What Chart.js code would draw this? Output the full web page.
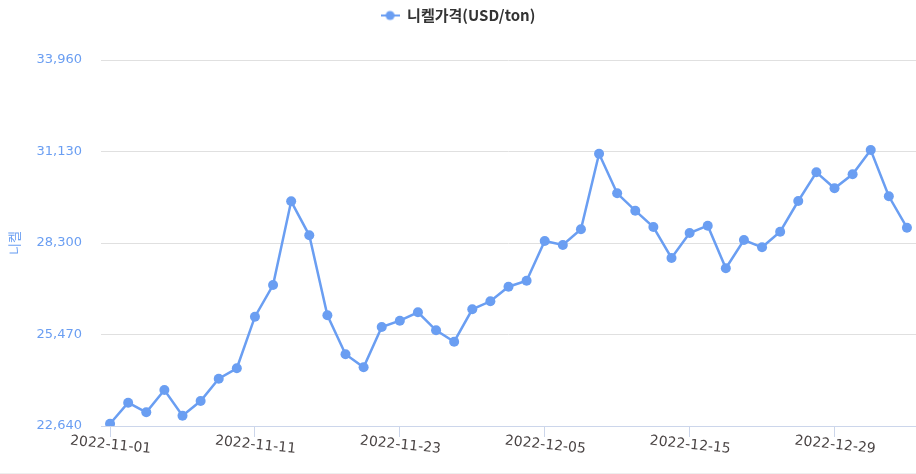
<!DOCTYPE html>
<html>
<head>
<meta charset="utf-8">
<script src="https://cdn.jsdelivr.net/npm/chart.js@4.4.0/dist/chart.umd.min.js"></script>
<style>
html, body { margin: 0; padding: 0; background: #fff; }
#wrap { position: relative; width: 916px; height: 473px; border-bottom: 1px solid #eeeeee; }
</style>
</head>
<body>
<div id="wrap"><canvas id="myChart"></canvas></div>
<script>
// trading days, Nov 2022 - Jan 2023
var dates = [
    '2022-11-01', '2022-11-02', '2022-11-03', '2022-11-04', '2022-11-07', '2022-11-08', '2022-11-09', '2022-11-10',
    '2022-11-11', '2022-11-14', '2022-11-15', '2022-11-16', '2022-11-17', '2022-11-18', '2022-11-21', '2022-11-22',
    '2022-11-23', '2022-11-24', '2022-11-25', '2022-11-28', '2022-11-29', '2022-11-30', '2022-12-01', '2022-12-02',
    '2022-12-05', '2022-12-06', '2022-12-07', '2022-12-08', '2022-12-09', '2022-12-12', '2022-12-13', '2022-12-14',
    '2022-12-15', '2022-12-16', '2022-12-19', '2022-12-20', '2022-12-21', '2022-12-22', '2022-12-23', '2022-12-28',
    '2022-12-29', '2022-12-30', '2023-01-03', '2023-01-04', '2023-01-05'
];

var nickelPrice = [
    22711, 23361, 23064, 23753, 22959, 23413, 24103, 24425,
    26021, 27001, 29590, 28538, 26064, 24858, 24456, 25702,
    25897, 26157, 25600, 25247, 26250, 26497, 26948, 27134,
    28362, 28238, 28724, 31062, 29837, 29299, 28795, 27836,
    28609, 28835, 27518, 28393, 28167, 28650, 29599, 30487,
    29992, 30425, 31177, 29745, 28773
];

var yTicks = [22640, 25470, 28300, 31130, 33960];

const LINE_COLOR = '#6a9ef2';

// little "-o-" marker for the legend
var legendMarker = document.createElement('canvas');
legendMarker.width = 19;
legendMarker.height = 12;
(function () {
    var c = legendMarker.getContext('2d');
    c.strokeStyle = LINE_COLOR;
    c.lineWidth = 2;
    c.beginPath();
    c.moveTo(0, 6);
    c.lineTo(19, 6);
    c.stroke();
    c.fillStyle = LINE_COLOR;
    c.beginPath();
    c.arc(9.5, 6, 4.5, 0, Math.PI * 2);
    c.fill();
})();

// fixed legend box height so the plot starts at the right place
var legendHeight = {
    id: 'legendHeight',
    beforeInit: function (chart) {
        var fit = chart.legend.fit;
        chart.legend.fit = function () {
            fit.bind(chart.legend)();
            this.height = 60;
        };
    }
};

var config = {
    type: 'line',
    data: {
        labels: dates,
        datasets: [{
            label: '니켈가격(USD/ton)',
            data: nickelPrice,
            borderColor: LINE_COLOR,
            backgroundColor: LINE_COLOR,
            borderWidth: 2.5,
            pointRadius: 5,
            pointHoverRadius: 6,
            pointBorderWidth: 0,
            tension: 0
        }]
    },
    options: {
        responsive: true,
        maintainAspectRatio: false,
        animation: false,
        layout: {
            autoPadding: false,
            padding: { left: 0, right: 0, top: 0, bottom: 0 }
        },
        scales: {
            x: {
                offset: true,
                border: { display: true, color: '#ccd6eb', width: 1 },
                grid: {
                    drawOnChartArea: false,
                    drawTicks: true,
                    tickLength: 11,
                    color: '#ccd6eb'
                },
                ticks: {
                    autoSkip: false,
                    minRotation: -6,
                    maxRotation: -6,
                    labelOffset: 41,
                    padding: 4,
                    color: '#4a4444',
                    font: { family: 'DejaVu Sans', size: 14 },
                    callback: function (value, index) {
                        if (index % 8 == 0) return this.getLabelForValue(value);
                        return null;
                    }
                },
                afterFit: function (scale) {
                    scale.height = 47;
                    scale.paddingLeft = 0;
                    scale.paddingRight = 0;
                }
            },
            y: {
                min: 22640,
                max: 33960,
                border: { display: false },
                grid: { drawTicks: false, color: '#e0e0e0', lineWidth: 1 },
                afterBuildTicks: function (scale) {
                    scale.ticks = yTicks.map(function (v) { return { value: v }; });
                },
                ticks: {
                    padding: 19,
                    color: '#6a9ef2',
                    font: { family: 'DejaVu Sans', size: 13 },
                    callback: function (v) { return v.toLocaleString('en-US'); }
                },
                title: {
                    display: true,
                    text: '니켈',
                    color: '#6a9ef2',
                    padding: { top: 6, bottom: 0 },
                    font: { family: 'Noto Sans CJK KR', size: 13 }
                },
                afterFit: function (scale) {
                    scale.width = 101;
                }
            }
        },
        plugins: {
            legend: {
                display: true,
                position: 'top',
                labels: {
                    color: '#333333',
                    padding: 8,
                    usePointStyle: true,
                    pointStyleWidth: 19,
                    font: { family: 'Noto Sans CJK KR', size: 15, weight: 'bold' },
                    generateLabels: function (chart) {
                        var items = Chart.defaults.plugins.legend.labels.generateLabels(chart);
                        items.forEach(function (it) { it.pointStyle = legendMarker; });
                        return items;
                    }
                }
            },
            tooltip: { enabled: true }
        }
    },
    plugins: [legendHeight]
};

var nickelChart = new Chart(document.getElementById('myChart'), config);
</script>
</body>
</html>
